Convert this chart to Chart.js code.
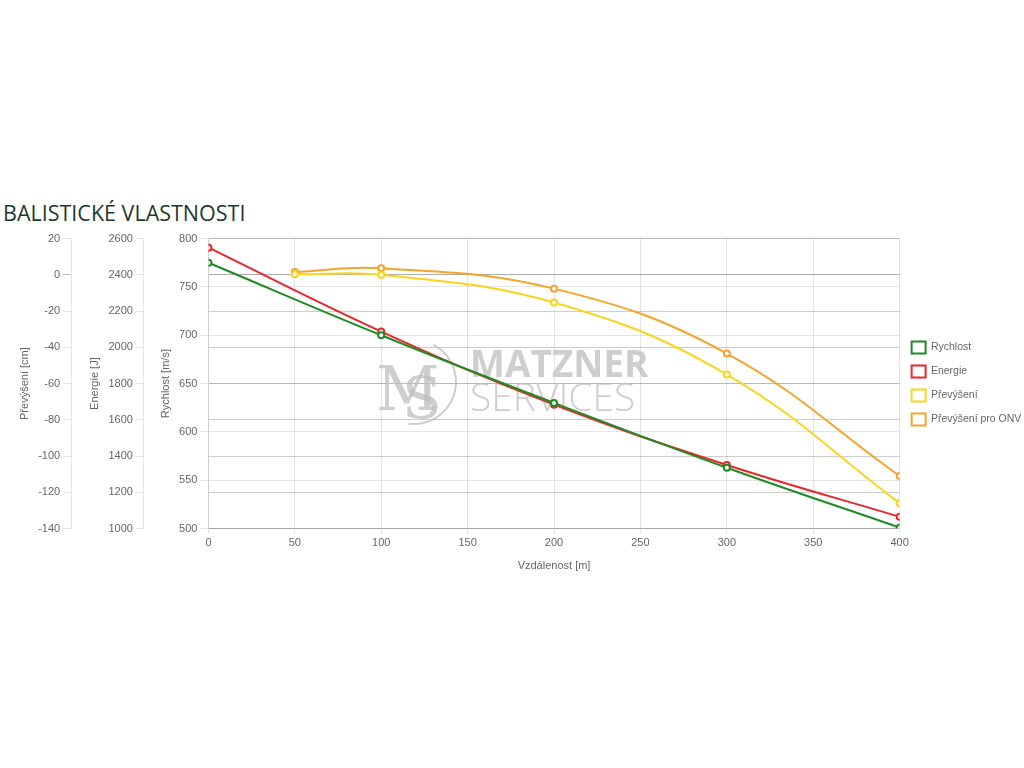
<!DOCTYPE html>
<html lang="cs">
<head>
<meta charset="utf-8">
<title>Balistické vlastnosti</title>
<script src="https://cdn.jsdelivr.net/npm/chart.js@4.4.1/dist/chart.umd.min.js"></script>
<style>
  body { margin: 0; background: #fff; width: 1024px; height: 768px; overflow: hidden; }
  h2 {
    position: absolute; left: 3px; top: 198px; margin: 0;
    font-family: "Open Sans", sans-serif; font-weight: 400; font-size: 21.5px;
    color: #1d3a2b; letter-spacing: 0;
  }
  #wrap { position: absolute; left: 0; top: 229px; width: 1028px; height: 348px; }
</style>
</head>
<body>
<h2>BALISTICKÉ VLASTNOSTI</h2>
<div id="wrap"><canvas id="balistika"></canvas></div>
<script>
// vzdálenosti [m]
var vzdalenost = [0, 100, 200, 300, 400];
var vzdalenostPrevyseni = [50, 100, 200, 300, 400];

// hodnoty
var rychlost = [775, 700, 630, 563, 501];            // m/s
var energie = [2550, 2087, 1684, 1351, 1065];        // J
var prevyseni = [0.3, 0, -15.3, -55, -126];          // cm
var prevyseniONV = [1.6, 3.6, -7.6, -43.4, -111];    // cm

function body(xs, ys) {
  return xs.map(function (x, i) { return { x: x, y: ys[i] }; });
}

function serie(label, color, xs, ys, axis) {
  return {
    label: label,
    data: body(xs, ys),
    yAxisID: axis,
    borderColor: color,
    backgroundColor: '#fff',
    borderWidth: 2,
    pointRadius: 3,
    pointBorderWidth: 2,
    tension: 0.4,
    fill: false
  };
}

// vodoznak za čarami
var vodoznak = {
  id: 'vodoznak',
  beforeDatasetsDraw: function (chart) {
    var ctx = chart.ctx;
    var top = 229;
    ctx.save();
    ctx.fillStyle = 'rgba(190,190,190,0.75)';
    ctx.strokeStyle = 'rgba(190,190,190,0.75)';
    ctx.textBaseline = 'alphabetic';
    ctx.font = '300 62px "DejaVu Serif", serif';
    ctx.fillText('M', 376, 410 - top);
    ctx.font = '300 58px "DejaVu Serif", serif';
    ctx.fillText('S', 402, 418 - top);
    ctx.lineWidth = 2;
    ctx.beginPath();
    ctx.arc(414, 382 - top, 42, -1.1, 1.7);
    ctx.stroke();
    ctx.font = 'bold 37px "Open Sans", sans-serif';
    ctx.fillText('MATZNER', 470, 377 - top);
    ctx.font = '300 39px "Open Sans", sans-serif';
    ctx.fillText('SERVICES', 470, 411 - top);
    ctx.restore();
  }
};

Chart.defaults.font.family = '"Liberation Sans", Arial, sans-serif';
Chart.defaults.font.size = 11;
Chart.defaults.color = '#666';

function mrizka(ctx) {
  return ctx.tick && ctx.tick.value === 0 ? 'rgba(0,0,0,0.25)' : 'rgba(0,0,0,0.1)';
}

function cislo(v) { return String(v); }

new Chart(document.getElementById('balistika'), {
  type: 'line',
  data: {
    datasets: [
      serie('Rychlost', '#1f8b24', vzdalenost, rychlost, 'rychlost'),
      serie('Energie', '#e8262b', vzdalenost, energie, 'energie'),
      serie('Převýšení', '#f8d51d', vzdalenostPrevyseni, prevyseni, 'prevyseni'),
      serie('Převýšení pro ONV', '#f3a42b', vzdalenostPrevyseni, prevyseniONV, 'prevyseni')
    ]
  },
  options: {
    responsive: true,
    maintainAspectRatio: false,
    animation: false,
    layout: { padding: { left: 1, right: 0 } },
    plugins: {
      legend: {
        position: 'right',
        fullSize: false,
        labels: { boxWidth: 14, boxHeight: 12, padding: 12, font: { size: 10.5 } }
      },
      tooltip: { enabled: false }
    },
    scales: {
      x: {
        type: 'linear',
        min: 0, max: 400,
        grid: { tickLength: 5 },
        ticks: { stepSize: 50 },
        title: { display: true, text: 'Vzdálenost [m]', padding: { top: 7, bottom: 4 } }
      },
      rychlost: {
        position: 'left', weight: 0,
        min: 500, max: 800,
        ticks: { stepSize: 50, callback: cislo },
        title: { display: true, text: 'Rychlost [m/s]', padding: { top: 15, bottom: 4 } }
      },
      energie: {
        position: 'left', weight: 1,
        min: 1000, max: 2600,
        ticks: { stepSize: 200, callback: cislo },
        title: { display: true, text: 'Energie [J]', padding: { top: 17, bottom: 4 } }
      },
      prevyseni: {
        position: 'left', weight: 2,
        min: -140, max: 20,
        ticks: { stepSize: 20, callback: cislo },
        grid: { color: mrizka },
        title: { display: true, text: 'Převýšení [cm]', padding: { top: 17, bottom: 4 } }
      }
    }
  },
  plugins: [vodoznak]
});
</script>
</body>
</html>
